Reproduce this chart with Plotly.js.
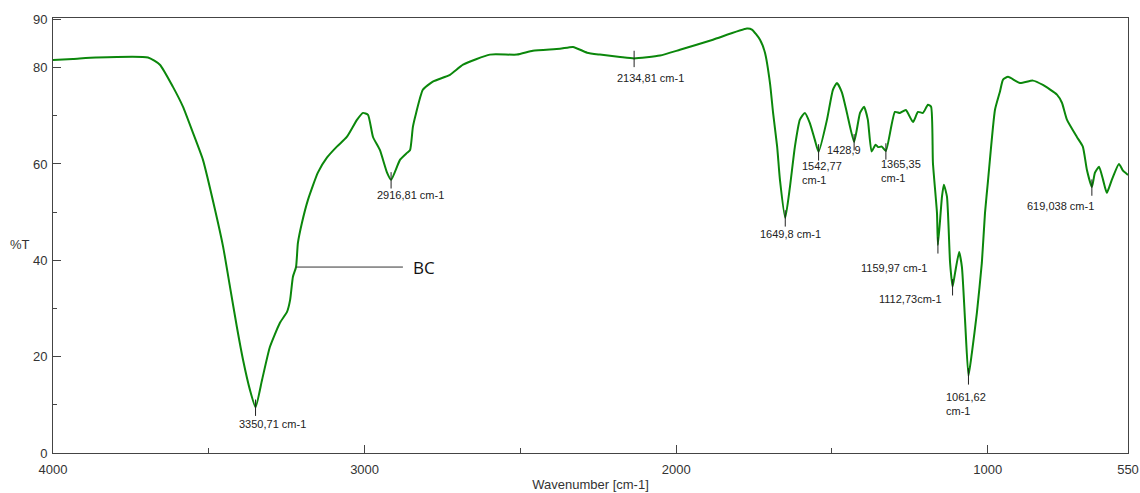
<!DOCTYPE html>
<html>
<head>
<meta charset="utf-8">
<script src="https://cdn.plot.ly/plotly-3.0.1.min.js"></script>
<style>html,body{margin:0;padding:0;background:#fff;}#chart{width:1140px;height:493px;}</style>
</head>
<body>
<div id="chart"></div>
<script>
// Wavenumber (cm-1) and transmittance (%T)
const wavenumber = [4000,3936,3862,3695,3657,3615,3583,3551,3519,3480,3454,3432,3410,3390,3368,3350,3329,3304,3272,3249,3239,3230,3220,3214,3201,3182,3150,3121,3089,3057,3024,3005,2989,2973,2951,2928,2915,2886,2864,2854,2845,2835,2813,2781,2726,2684,2598,2511,2460,2373,2331,2286,2245,2180,2135,2052,1988,1882,1773,1757,1731,1715,1699,1689,1676,1667,1650,1635,1619,1603,1587,1571,1555,1543,1516,1497,1484,1468,1452,1429,1410,1397,1385,1373,1360,1352,1340,1327,1298,1282,1263,1240,1224,1208,1192,1182,1176,1163,1160,1147,1141,1131,1121,1113,1105,1092,1083,1073,1062,1051,1035,1019,1009,999,977,961,951,935,897,855,823,778,762,746,714,695,682,666,656,643,630,618,602,579,566,550];
const transmittance = [81.6,81.8,82.1,82.1,80.6,76.0,71.9,66.5,60.9,50.5,42.8,34.5,26.2,19.3,13.1,9.5,15.2,22.0,27.0,29.3,31.8,36.6,38.6,43.6,47.8,52.5,58.2,61.3,63.6,65.6,69.2,70.6,70.2,65.6,62.9,58.2,56.7,60.9,62.3,62.9,67.7,70.5,75.4,77.1,78.5,80.6,82.7,82.7,83.5,83.9,84.3,83.1,82.7,82.2,81.9,82.5,83.7,85.8,88.1,87.9,85.8,83.1,76.8,70.6,63.6,56.7,48.8,55.2,63.6,69.2,70.6,68.5,65.0,62.5,69.2,75.4,76.8,74.8,70.6,64.6,70.6,71.9,69.2,62.6,64.0,63.5,63.6,62.7,70.8,70.6,71.2,68.7,70.8,70.6,72.3,71.9,60.2,49.8,43.2,53.2,55.7,53.2,39.5,34.5,37.4,41.7,38.6,27.6,16.0,20.8,29.1,39.5,49.8,56.7,71.2,75.0,77.5,78.1,76.8,77.3,76.4,74.4,72.7,69.2,65.6,63.6,58.8,55.2,58.2,59.4,56.7,54.0,56.7,60.0,58.6,57.7];

// Peak labels as printed on the reference, with the wavenumber at which each marker sits
const peakLabels   = ['3350,71 cm-1','2916,81 cm-1','2134,81 cm-1','1649,8 cm-1','1542,77<br>cm-1','1428,9','1365,35<br>cm-1','1159,97 cm-1','1112,73cm-1','1061,62<br>cm-1','619,038 cm-1'];
const peakAt       = [3350,2915,2135,1650,1543,1429,1327,1160,1113,1062,666];
const xTickVals    = [4000,3000,2000,1000,550];
const xMinorVals   = [3500,2500,1500];
const yTickVals    = [0,20,40,60,80,90];
const yMinorVals   = [10,30,50,70];
const seriesName   = 'BC';
const seriesLabelAt = 3220;

// label placement (pixel offsets relative to the marker) — style only
const labelStyle = [
  {xa:'center', ya:'middle', dx:17,  dy:-17},
  {xa:'center', ya:'middle', dx:19,  dy:-15},
  {xa:'center', ya:'middle', dx:16,  dy:-20},
  {xa:'center', ya:'middle', dx:5,   dy:-16},
  {xa:'left',   ya:'middle', dx:-19, dy:-21, al:'left'},
  {xa:'left',   ya:'middle', dx:-29, dy:-8},
  {xa:'left',   ya:'middle', dx:-7,  dy:-20, al:'left'},
  {xa:'right',  ya:'middle', dx:-9,  dy:-23},
  {xa:'right',  ya:'middle', dx:-9,  dy:-12},
  {xa:'left',   ya:'middle', dx:-24, dy:-28, al:'left'},
  {xa:'right',  ya:'middle', dx:4,   dy:-19}
];

function yAt(w){ const i = wavenumber.indexOf(w); return transmittance[i]; }

const shapes = [];
const annotations = [];
peakAt.forEach((w, k) => {
  const y = yAt(w);
  shapes.push({type:'line', xref:'x', yref:'y', x0:w, x1:w, y0:y+1.6, y1:y-1.8,
    line:{color:'#222', width:1}});
  const s = labelStyle[k];
  annotations.push({xref:'x', yref:'y', x:w, y:y, text:peakLabels[k], showarrow:false,
    xanchor:s.xa, yanchor:s.ya, xshift:s.dx, yshift:s.dy, align:s.al||'center',
    font:{family:'Liberation Sans, Arial, sans-serif', size:11, color:'#222'}});
});

// BC series label with leader line starting on the curve
const bcY = yAt(seriesLabelAt);
shapes.push({type:'line', xref:'x', yref:'y', x0:seriesLabelAt, x1:2877, y0:bcY, y1:bcY, line:{color:'#333', width:1}});
annotations.push({xref:'x', yref:'y', x:2877, y:bcY, xshift:8, text:seriesName, showarrow:false, xanchor:'left', yanchor:'middle',
  font:{family:'Open Sans, Noto Sans, sans-serif', size:17, color:'#111'}});

// %T label
annotations.push({xref:'paper', yref:'paper', x:0, y:0.48, xshift:-33, text:'%T', showarrow:false,
  xanchor:'center', yanchor:'middle', font:{family:'Liberation Sans, Arial, sans-serif', size:13, color:'#333'}});

const trace = {
  x: wavenumber, y: transmittance, type:'scatter', mode:'lines', name:seriesName,
  line:{color:'#0b870b', width:2, shape:'spline', smoothing:0.5}, hoverinfo:'x+y'
};

const axisFont = {family:'Liberation Sans, Arial, sans-serif', size:13, color:'#333'};
const layout = {
  width:1140, height:493,
  margin:{l:53, r:12, t:18, b:40},
  paper_bgcolor:'#fff', plot_bgcolor:'#fff',
  showlegend:false,
  xaxis:{
    range:[4000,550], autorange:false,
    tickmode:'array', tickvals:xTickVals, ticktext:xTickVals.map(String),
    ticks:'inside', ticklen:8, tickcolor:'#444', tickwidth:1,
    minor:{tickmode:'array', tickvals:xMinorVals, ticks:'inside', ticklen:5, tickcolor:'#444', showgrid:false},
    showline:true, linecolor:'#444', linewidth:1, mirror:true,
    showgrid:false, zeroline:false, tickfont:axisFont, ticklabelstandoff:4,
    title:{text:'Wavenumber [cm-1]', font:axisFont, standoff:4}
  },
  yaxis:{
    range:[0,90.3], autorange:false,
    tickmode:'array', tickvals:yTickVals, ticktext:yTickVals.map(String),
    ticks:'inside', ticklen:8, tickcolor:'#444', tickwidth:1,
    minor:{tickmode:'array', tickvals:yMinorVals, ticks:'inside', ticklen:4, tickcolor:'#444', showgrid:false},
    showline:true, linecolor:'#444', linewidth:1, mirror:true,
    showgrid:false, zeroline:false, tickfont:axisFont, ticklabelstandoff:2
  },
  shapes: shapes,
  annotations: annotations
};

Plotly.newPlot('chart', [trace], layout, {displayModeBar:false, staticPlot:true});
</script>
</body>
</html>
